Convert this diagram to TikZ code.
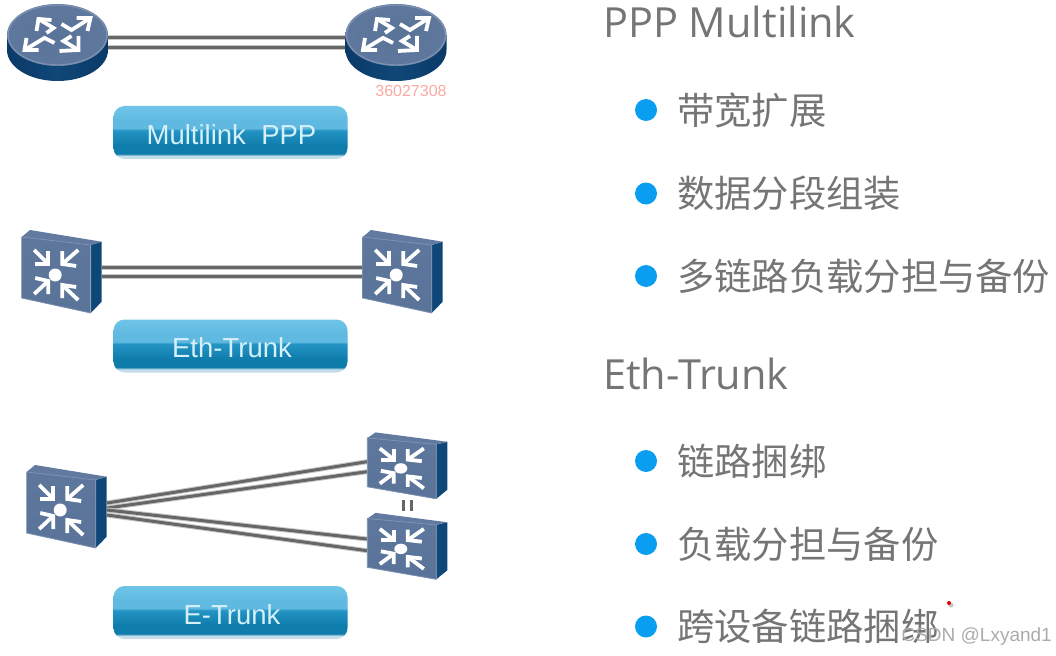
\documentclass[tikz,border=0pt]{standalone}
\usepackage{fontspec}
\setmainfont{Liberation Sans}
\newfontfamily\cjkfont{Noto Sans CJK SC}
\newfontfamily\headfont{Open Sans}
\usetikzlibrary{calc}
\definecolor{pilltop}{HTML}{6FC5E8}
\definecolor{pillmid}{HTML}{5FB9E0}
\definecolor{pilllow}{HTML}{2494C4}
\definecolor{pilldeep}{HTML}{0F7DAC}
\definecolor{pilledge}{HTML}{C4DFEA}
\definecolor{devface}{HTML}{5A7399}
\definecolor{devlight}{HTML}{7B90B0}
\definecolor{devdark}{HTML}{0F4778}
\definecolor{devdeep}{HTML}{0B3A68}
\definecolor{linkgray}{HTML}{666666}
\definecolor{linkhalo}{HTML}{C8C8C8}
\definecolor{txtgray}{HTML}{757575}
\definecolor{bulletblue}{HTML}{0A9EF0}
\definecolor{markgray}{HTML}{ABABAB}
\definecolor{marksalmon}{HTML}{F9A9A2}
\definecolor{pillword}{HTML}{D6F0FA}
\pgfdeclareverticalshading{pillshade}{100bp}{
 color(0bp)=(pilledge); color(25bp)=(pilledge); color(28bp)=(pilledge);
 color(30bp)=(pilldeep); color(38bp)=(pilldeep); color(52bp)=(pilllow);
 color(54bp)=(pillmid); color(61bp)=(pillmid); color(75bp)=(pilltop); color(100bp)=(pilltop)}
\tikzset{
 device/.style={draw=none,inner sep=0pt,outer sep=0pt},
 link/.style={draw=linkgray,line width=3pt,preaction={draw=linkhalo,line width=5pt}},
 pill/.style={rounded corners=11pt,shading=pillshade,minimum width=234pt,minimum height=53pt,inner sep=0pt},
 pilltext/.style={inner sep=0pt,text=pillword,font=\fontsize{27.5}{27.5}\selectfont},
 bullet/.style={circle,fill=bulletblue,inner sep=0pt,minimum size=22pt},
 item/.style={anchor=west,inner sep=0pt,text=txtgray,font=\cjkfont\fontsize{37.3}{37.3}\selectfont},
 head/.style={anchor=base west,inner sep=0pt,text=txtgray,font=\headfont\fontsize{41.5}{41.5}\selectfont},
 iconline/.style={draw=white,line width=3.8pt,miter limit=6}
}
\newcommand{\routericon}[2]{%
 \begin{scope}[shift={(#1,#2)}]
  \shade[left color=devdeep,right color=devdeep,middle color=devdark] (-50.5,0) -- (-50.5,15) arc[start angle=180,end angle=0,x radius=50.5,y radius=31] -- (50.5,0) -- cycle;
  \shade[inner color=devface,outer color=devface!85!devlight] (0,0) ellipse[x radius=50.5,y radius=31];
  \draw[devlight,line width=1.4pt] (0,0) ellipse[x radius=49.5,y radius=30];
  \begin{scope}[shift={(-1,-2)}]
  \draw[iconline] (-5,-13) -- (-18,-14) -- (-20,-2);
  \draw[iconline] (-18,-14) -- (-3,-5) -- (-10,0);
  \draw[iconline] (-30,5) -- (-32,17) -- (-18,17);
  \draw[iconline] (-32,17) -- (-12,5) -- (-2,10);
  \draw[iconline] (20,-15) -- (34,-15) -- (31,-2);
  \draw[iconline] (34,-15) -- (15,-3) -- (5,-9);
  \draw[iconline] (3,18) -- (22,17) -- (22,3);
  \draw[iconline] (22,17) -- (7,8) -- (15,3);
  \end{scope}
 \end{scope}}
\newcommand{\switchicon}[3]{%
 \begin{scope}[shift={(#1,#2)},yscale=#3]
  \fill[devdark] (69,8) -- (80,4.7) -- (80,64.7) -- (69,76) -- cycle;
  \fill[devface!75!devlight] (0,0) -- (8.3,-7) -- (80,4.7) -- (69,8) -- cycle;
  \shade[top color=devface!88!devlight,bottom color=devface] (0,0) -- (69,8) -- (69,76) -- (0,61) -- cycle;
  \draw[devlight,line width=0.8pt] (0,0) -- (69,8) -- (69,76) -- (0,61) -- cycle;
  \begin{scope}[shift={(33.5,38)}]
  \fill[white] (0,0) circle[radius=6.5];
  \draw[iconline] (-21,-25) -- (-7,-11);
  \draw[iconline] (-20,-11) -- (-7,-11) -- (-7,-24);
  \draw[iconline] (23,-25) -- (7,-11);
  \draw[iconline] (7,-24) -- (7,-11) -- (21,-9);
  \draw[iconline] (-21,19) -- (-7,6);
  \draw[iconline] (-20,3) -- (-7,6) -- (-7,19);
  \draw[iconline] (23,25) -- (7,10);
  \draw[iconline] (7,23) -- (7,10) -- (21,12);
  \end{scope}
 \end{scope}}
\begin{document}
\begin{tikzpicture}[x=1pt,y=-1pt]
\useasboundingbox (0,0) rectangle (1056,655);
% device boxes (anchors for connectors)
\node[device,minimum width=101pt,minimum height=77pt] (r1) at (57.5,42.5) {};
\node[device,minimum width=101pt,minimum height=77pt] (r2) at (396,42.5) {};
\node[device,minimum width=80pt,minimum height=84pt] (s1) at (61.7,272) {};
\node[device,minimum width=80pt,minimum height=84pt] (s2) at (402.7,272) {};
\node[device,minimum width=80pt,minimum height=90pt] (s3) at (67,510) {};
\node[device,minimum width=80pt,minimum height=67pt] (s4) at (407,464.5) {};
\node[device,minimum width=80pt,minimum height=65pt] (s5) at (407,544.5) {};
% connectors
\draw[link] ([yshift=5pt]r1.east) -- ([yshift=5pt]r2.west);
\draw[link] ([yshift=-5pt]r1.east) -- ([yshift=-5pt]r2.west);
\draw[link] ([yshift=5pt]s1.east) -- ([yshift=5pt]s2.west);
\draw[link] ([yshift=-4.5pt]s1.east) -- ([yshift=-4.5pt]s2.west);
\draw[link] ([yshift=7pt]s3.east) -- ([yshift=2.8pt]s4.west);
\draw[link] ([yshift=2pt]s3.east) -- ([yshift=-7.2pt]s4.west);
\draw[link] (s3.east) -- ([yshift=5.5pt]s5.west);
\draw[link] ([yshift=-5pt]s3.east) -- ([yshift=-6.2pt]s5.west);
% device icons
\routericon{57.5}{35}
\routericon{396}{35}
\switchicon{21.7}{237}{1}
\switchicon{362.7}{237}{1}
\switchicon{26.7}{472}{1}
\switchicon{367.3}{438}{0.8}
\switchicon{367.3}{518.5}{0.8}
\draw[linkgray,line width=3.5pt,shorten <=2pt,shorten >=1pt] ([xshift=-3.5pt]s4.south) -- ([xshift=-3.5pt]s5.north);
\draw[linkgray,line width=3.5pt,shorten <=2pt,shorten >=1pt] ([xshift=4.5pt]s4.south) -- ([xshift=4.5pt]s5.north);
% pills
\node[pill] (p1) at (230.5,132.5) {};
\node[pilltext] (p1t) at (231.5,134.5) {Multilink\ \ PPP};
\node[pill] (p2) at (230.5,346) {};
\node[pilltext] (p2t) at (232,348) {Eth-Trunk};
\node[pill] (p3) at (230.5,612.5) {};
\node[pilltext] (p3t) at (232,614.5) {E-Trunk};
% right text
\node[head] (h1) at (603,38) {PPP Multilink};
\node[head] (h2) at (603,389) {Eth-Trunk};
\node[bullet] (b1) at (646,110) {};
\node[bullet] (b2) at (646,193.5) {};
\node[bullet] (b3) at (646,276) {};
\node[bullet] (b4) at (646,461) {};
\node[bullet] (b5) at (646,544) {};
\node[bullet] (b6) at (646,626.5) {};
\node[item] (t1) at (677,110) {带宽扩展};
\node[item] (t2) at (677,193.5) {数据分段组装};
\node[item] (t3) at (677,276) {多链路负载分担与备份};
\node[item] (t4) at (677,461) {链路捆绑};
\node[item] (t5) at (677,544) {负载分担与备份};
\node[item] (t6) at (677,626.5) {跨设备链路捆绑};
% marks
\node[inner sep=0pt,text=marksalmon,font=\fontsize{16}{16}\selectfont] (w1) at (411,91) {36027308};
\node[inner sep=0pt,anchor=east,text=markgray,font=\fontsize{19}{19}\selectfont] (w2) at (1052,637) {CSDN @Lxyand1};
\fill[gray!45] (951,605) circle[radius=2.5];
\fill[red!85!black] (949,603) circle[radius=2];
\end{tikzpicture}
\end{document}
